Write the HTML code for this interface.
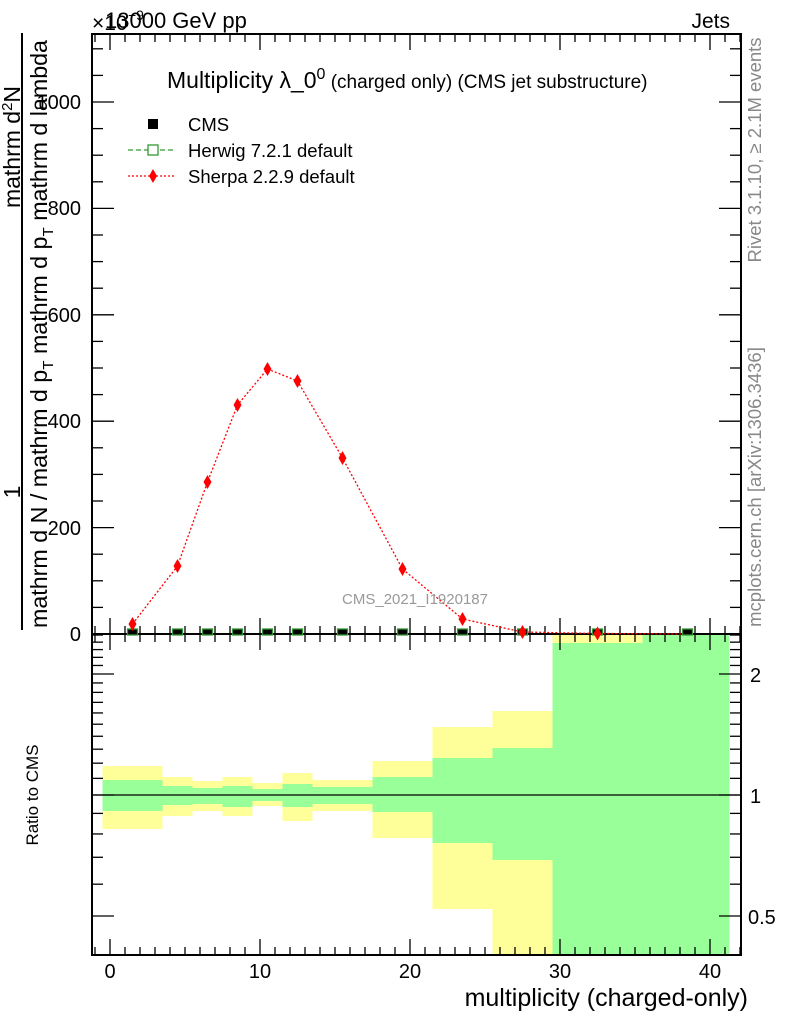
<!DOCTYPE html>
<html><head><meta charset="utf-8"><style>
html,body{margin:0;padding:0;background:#fff;}
svg{display:block;font-family:"Liberation Sans",sans-serif;}
</style></head><body>
<svg id="s" width="786" height="1024" viewBox="0 0 786 1024" xmlns="http://www.w3.org/2000/svg">
<g id="bands"></g>
<line x1="92" y1="795" x2="741" y2="795" stroke="#000" stroke-width="1.3"/>
<g id="ticks" stroke="#000" stroke-width="1.3"></g>
<rect x="92" y="34" width="649" height="600" fill="none" stroke="#000" stroke-width="2"/>
<rect x="92" y="634" width="649" height="321" fill="none" stroke="#000" stroke-width="2"/>
<polyline id="sh" fill="none" stroke="#f00" stroke-width="1.3" stroke-dasharray="2,2"/>
<g id="pts"></g>
<g font-size="20" fill="#000">
<text x="81" y="109" text-anchor="end">1000</text>
<text x="81" y="215" text-anchor="end">800</text>
<text x="81" y="322" text-anchor="end">600</text>
<text x="81" y="428" text-anchor="end">400</text>
<text x="81" y="535" text-anchor="end">200</text>
<text x="81" y="641" text-anchor="end">0</text>
<text x="750" y="682">2</text>
<text x="750" y="803">1</text>
<text x="748" y="924">0.5</text>
<text x="110" y="978" text-anchor="middle">0</text>
<text x="260" y="978" text-anchor="middle">10</text>
<text x="410" y="978" text-anchor="middle">20</text>
<text x="560" y="978" text-anchor="middle">30</text>
<text x="710" y="978" text-anchor="middle">40</text>
</g>
<text x="748" y="1006" font-size="25" text-anchor="end">multiplicity (charged-only)</text>
<text x="92" y="30" font-size="21">×10</text>
<text x="128" y="20" font-size="14">−9</text>
<text x="105" y="28" font-size="22">13000 GeV pp</text>
<text x="730" y="28" font-size="21" text-anchor="end">Jets</text>
<text x="167" y="88" font-size="23">Multiplicity λ_0<tspan font-size="16" dy="-9">0</tspan><tspan font-size="19" dy="9"> (charged only) (CMS jet substructure)</tspan></text>
<rect x="148" y="119" width="10" height="10" fill="#000"/>
<text x="188" y="131" font-size="18.5">CMS</text>
<line x1="128" y1="150" x2="176" y2="150" stroke="#393" stroke-width="1.3" stroke-dasharray="5,3"/>
<rect x="148" y="145" width="10" height="10" fill="#fff" stroke="#393" stroke-width="1.3"/>
<text x="188" y="157" font-size="18.5">Herwig 7.2.1 default</text>
<line x1="128" y1="176" x2="176" y2="176" stroke="#f00" stroke-width="1.3" stroke-dasharray="2,2"/>
<polygon points="153,169 157,176 153,183 149,176" fill="#f00"/>
<text x="188" y="183" font-size="18.5">Sherpa 2.2.9 default</text>
<text x="415" y="604" font-size="15" fill="#999" text-anchor="middle">CMS_2021_I1920187</text>
<text transform="translate(761,150) rotate(-90)" font-size="18.5" fill="#888" text-anchor="middle">Rivet 3.1.10, ≥ 2.1M events</text>
<text transform="translate(761,487) rotate(-90)" font-size="18.5" fill="#888" text-anchor="middle">mcplots.cern.ch [arXiv:1306.3436]</text>
<text transform="translate(38,795) rotate(-90)" font-size="17" text-anchor="middle">Ratio to CMS</text>
<line x1="22" y1="33" x2="22" y2="630" stroke="#000" stroke-width="2"/>
<text transform="translate(20,147) rotate(-90)" font-size="23" text-anchor="middle">mathrm d<tspan font-size="15" dy="-8">2</tspan><tspan dy="8">N</tspan></text>
<text transform="translate(20,492) rotate(-90)" font-size="23" text-anchor="middle">1</text>
<text transform="translate(47,628) rotate(-90)" font-size="23" textLength="588" lengthAdjust="spacingAndGlyphs">mathrm d N / mathrm d p<tspan font-size="15" dy="6">T</tspan><tspan dy="-6"> mathrm d p</tspan><tspan font-size="15" dy="6">T</tspan><tspan dy="-6"> mathrm d lambda</tspan></text>
</svg>
<script>
var NS="http://www.w3.org/2000/svg";
function el(p,t,a){var e=document.createElementNS(NS,t);for(var k in a)e.setAttribute(k,a[k]);document.getElementById(p).appendChild(e);return e;}
function X(v){return 110+15*v;}
function YR(r){return 795-402*Math.log10(r);}
var edges=[-0.5,3.5,5.5,7.5,9.5,11.5,13.5,17.5,21.5,25.5,29.5,35.5,41.3];
var yb=[[766,829],[777,816],[781,811],[777,816],[783,806],[773,821],[780,811],[761,838],[727,909],[711,955],[634,955],[634,955]];
var gb=[[780,811],[786,805],[788,804],[786,807],[789,801],[784,807],[787,804],[777,812],[758,843],[748,860],[643,955],[634,955]];
for(var i=0;i<12;i++){var x0=X(edges[i]),x1=X(edges[i+1]);
el("bands","rect",{x:x0,y:yb[i][0],width:x1-x0,height:yb[i][1]-yb[i][0],fill:"#ffff99"});
el("bands","rect",{x:x0,y:gb[i][0],width:x1-x0,height:gb[i][1]-gb[i][0],fill:"#99ff99"});}
for(var v=-1;v<=42;v++){var x=X(v),maj=(v%10==0),L=maj?16:8;
[[634,-1],[34,1],[955,-1],[634,1]].forEach(function(b){el("ticks","line",{x1:x,y1:b[0],x2:x,y2:b[0]+b[1]*L});});}
for(var v=0;v<=1120;v+=50){var y=634-0.532*v,L=(v%200==0)?22:11;
el("ticks","line",{x1:92,y1:y,x2:92+L,y2:y});el("ticks","line",{x1:741,y1:y,x2:741-L,y2:y});}
for(var k=4;k<=25;k++){var r=k/10,y=YR(r);if(y<635||y>954)continue;var L=(k==5||k==10||k==20)?22:11;
el("ticks","line",{x1:92,y1:y,x2:92+L,y2:y});el("ticks","line",{x1:741,y1:y,x2:741-L,y2:y});}
var cx=[1.5,4.5,6.5,8.5,10.5,12.5,15.5,19.5,23.5,27.5,32.5,38.5];
var sy=[624,566,482,405,369,381,458,569,619,632,633.5,634];
var pts=[];
for(var i=0;i<12;i++){var x=X(cx[i]);pts.push(x+","+sy[i]);
el("pts","rect",{x:x-5,y:629,width:10,height:6,fill:"#000",stroke:"#393","stroke-width":1.3});
if(i<11)el("pts","polygon",{points:(x)+","+(sy[i]-7)+" "+(x+4)+","+sy[i]+" "+x+","+(sy[i]+7)+" "+(x-4)+","+sy[i],fill:"#f00"});}
document.getElementById("sh").setAttribute("points",pts.join(" "));
</script>
</body></html>
